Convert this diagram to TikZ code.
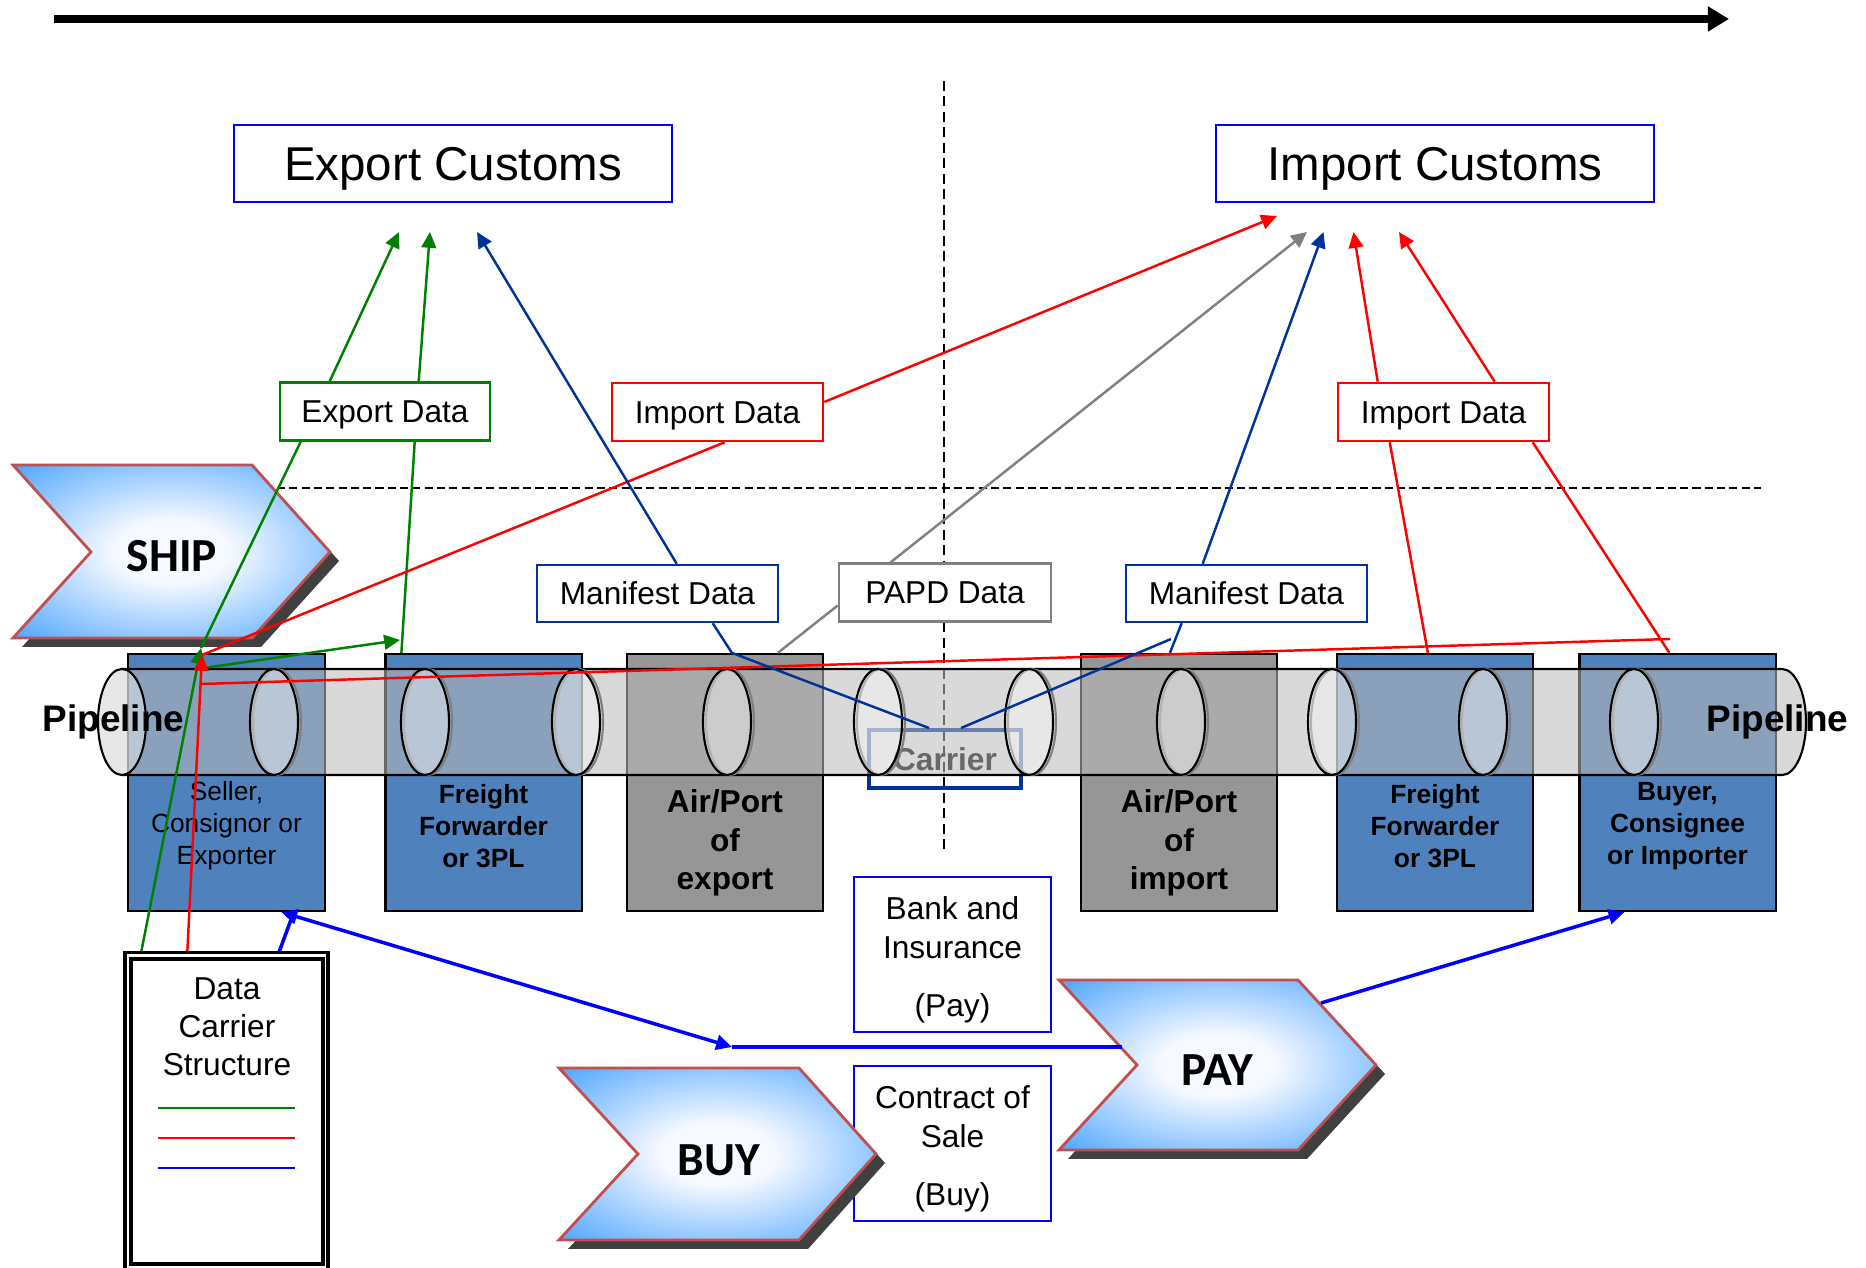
\documentclass[tikz,border=0pt]{standalone}
\usepackage{fontspec}
\setmainfont{Liberation Sans}
\newfontfamily\chevfont{Carlito}
\usetikzlibrary{arrows.meta,calc}
\definecolor{boxblue}{RGB}{79,129,189}
\definecolor{boxgray}{RGB}{150,150,150}
\definecolor{pipecol}{RGB}{187,187,187}
\definecolor{dblue}{RGB}{0,51,153}
\definecolor{lgreen}{RGB}{0,128,0}
\definecolor{lred}{RGB}{255,0,0}
\definecolor{lgray}{RGB}{128,128,128}
\definecolor{pblue}{RGB}{0,0,255}
\definecolor{chevB}{RGB}{74,163,255}
\definecolor{chevW}{RGB}{246,249,255}
\definecolor{chevEdge}{RGB}{192,80,77}
\definecolor{chevShadow}{RGB}{64,64,64}
\pgfdeclareradialshading{chevsh}{\pgfpoint{0bp}{0bp}}{color(0bp)=(chevW); color(9bp)=(chevW); color(36bp)=(chevB); color(50bp)=(chevB)}
\begin{document}
\begin{tikzpicture}[x=0.01cm,y=-0.01cm,
  tip/.style={-{Triangle[length=4.5pt,width=4.2pt]}},
  glink/.style={draw=lgreen,line width=0.7pt},
  rlink/.style={draw=lred,line width=0.7pt},
  dblink/.style={draw=dblue,line width=0.7pt},
  graylink/.style={draw=lgray,line width=0.7pt},
  blink/.style={draw=pblue,line width=1pt},
  custbox/.style={draw=pblue,line width=0.7pt,fill=white,inner sep=0pt,minimum width=4.38cm,minimum height=0.77cm,text height=9.67pt,text depth=0pt,font=\fontsize{13.5}{16}\selectfont},
  databox/.style={fill=white,line width=0.7pt,inner sep=0pt,minimum height=0.58cm,text height=6.45pt,text depth=0pt,font=\fontsize{9}{11}\selectfont},
  unitbox/.style={draw=black,line width=0.6pt,inner sep=0pt,minimum width=1.96cm,minimum height=2.57cm},
  smalltxt/.style={align=center,inner sep=0pt,font=\fontsize{7.5}{9.1}\selectfont},
  smallbold/.style={align=center,inner sep=0pt,font=\bfseries\fontsize{7.5}{9.1}\selectfont},
  aptxt/.style={align=center,inner sep=0pt,font=\bfseries\fontsize{9}{11}\selectfont},
  notebox/.style={draw=pblue,line width=0.7pt,fill=white,inner sep=0pt,minimum width=1.97cm,minimum height=1.55cm},
  notetxt/.style={align=center,inner sep=0pt,font=\fontsize{9}{11.1}\selectfont},
  chevtext/.style={inner sep=0pt,font=\chevfont\bfseries\fontsize{13.5}{16}\selectfont},
  pipetext/.style={inner sep=0pt,font=\bfseries\fontsize{10.5}{12}\selectfont},
  vdash/.style={line width=0.6pt,dash pattern=on 2.8pt off 1.6pt},
  hdash/.style={line width=0.6pt,dash pattern=on 2.3pt off 1.2pt}
]
\useasboundingbox (0,0) rectangle (1866,1268);

% free-end coordinates
\coordinate (tl0) at (54,19);
\coordinate (tl1) at (1729,19);
\coordinate (vd0) at (944,81);
\coordinate (vd1) at (944,851);
\coordinate (hd0) at (277,488);
\coordinate (hd1) at (1761,488);
\coordinate (ecT1) at (399,232);
\coordinate (ecT2) at (430,232);
\coordinate (ecT3) at (477,232);
\coordinate (icT0) at (1277,216);
\coordinate (icT1) at (1307,232);
\coordinate (icT2) at (1323.5,232);
\coordinate (icT3) at (1353.5,232);
\coordinate (icT4) at (1399,232);
\coordinate (gTipS) at (201,648);
\coordinate (rTipS) at (202,655);
\coordinate (gSFF) at (204,668);
\coordinate (gTipFF) at (400,640);
\coordinate (rH0) at (201,684);
\coordinate (rH1) at (1670,639);
\coordinate (mrk) at (1171,639);
\coordinate (bJoin) at (292,917);
\coordinate (bMid) at (732,1047);
\coordinate (payIn) at (1122,1047);
\coordinate (payOut) at (1321,1003);

% time arrow
\draw[line width=2.3pt,-{Triangle[length=6pt,width=6.8pt]}] (tl0) -- (tl1);

% dashed separators
\draw[vdash] (vd0) -- (vd1);
\draw[hdash] (hd0) -- (hd1);

% chevrons
\fill[chevShadow] (22,474) -- (261,474) -- (339,561) -- (261,647) -- (22,647) -- (100,561) -- cycle;
\shadedraw[shading=chevsh,draw=chevEdge,line width=0.8pt] (13,465) -- (252,465) -- (330,552) -- (252,638) -- (13,638) -- (91,552) -- cycle;
\node[chevtext] (ship) at (172,556) {SHIP};

\node[notebox] (contract) at (952.5,1143.5) {};
\node[notetxt] (contractT) at (952.5,1149) {Contract of\\Sale\\[5.4pt](Buy)};
\node[notebox] (bank) at (952.5,954.5) {};
\node[notetxt] (bankT) at (952.5,960) {Bank and\\Insurance\\[5.4pt](Pay)};

\fill[chevShadow] (568,1077) -- (808,1077) -- (885,1163) -- (808,1249) -- (568,1249) -- (647,1163) -- cycle;
\shadedraw[shading=chevsh,draw=chevEdge,line width=0.8pt] (559,1068) -- (799,1068) -- (876,1154) -- (799,1240) -- (559,1240) -- (638,1154) -- cycle;
\node[chevtext] (buy) at (719,1160) {BUY};

\fill[chevShadow] (1068,989) -- (1307,989) -- (1385,1074) -- (1307,1159) -- (1068,1159) -- (1146,1074) -- cycle;
\shadedraw[shading=chevsh,draw=chevEdge,line width=0.8pt] (1059,980) -- (1298,980) -- (1376,1065) -- (1298,1150) -- (1059,1150) -- (1137,1065) -- cycle;
\node[chevtext] (pay) at (1217,1070) {PAY};

% customs and data boxes
\node[custbox] (expC) at (453,163.5) {Export Customs};
\node[custbox] (impC) at (1435,163.5) {Import Customs};
\node[databox,draw=lgreen,minimum width=2.10cm] (expD) at (385,411.5) {Export Data};
\node[databox,draw=lred,minimum width=2.11cm] (impD1) at (717.5,412) {Import Data};
\node[databox,draw=lred,minimum width=2.11cm] (impD2) at (1443.5,412) {Import Data};
\node[databox,draw=dblue,minimum width=2.41cm,minimum height=0.57cm] (manL) at (657.5,593.5) {Manifest Data};
\node[databox,draw=lgray,minimum width=2.12cm] (papd) at (945,592.5) {PAPD Data};
\node[databox,draw=dblue,minimum width=2.41cm,minimum height=0.57cm] (manR) at (1246.5,593.5) {Manifest Data};

% carrier (under the pipeline)
\node[draw=dblue,line width=1.1pt,inner sep=0pt,minimum width=1.52cm,minimum height=0.58cm,text height=6.45pt,text depth=0pt,font=\bfseries\fontsize{9}{11}\selectfont] (carrier) at (945,759) {Carrier};

% party boxes
\node[unitbox,fill=boxblue] (seller) at (226.5,782.5) {};
\node[unitbox,fill=boxblue] (ff1) at (483.5,782.5) {};
\node[unitbox,fill=boxgray] (apE) at (725,782.5) {};
\node[unitbox,fill=boxgray] (apI) at (1179,782.5) {};
\node[unitbox,fill=boxblue] (ff2) at (1435,782.5) {};
\node[unitbox,fill=boxblue] (buyer) at (1677.5,782.5) {};
\node[smalltxt] (sellerT) at (226.5,826) {Seller,\\Consignor or\\Exporter};
\node[smallbold] (ff1T) at (483.5,826) {Freight\\Forwarder\\or 3PL};
\node[aptxt] (apET) at (725,843) {Air/Port\\of\\export};
\node[aptxt] (apIT) at (1179,843) {Air/Port\\of\\import};
\node[smallbold] (ff2T) at (1435,826) {Freight\\Forwarder\\or 3PL};
\node[smallbold] (buyerT) at (1677.5,826) {Buyer,\\Consignee\\or Importer};

% pipeline
\fill[pipecol,fill opacity=0.56] (122,669) -- (1782,669) arc[start angle=90,end angle=-90,x radius=0.24cm,y radius=0.53cm] -- (122,775) arc[start angle=270,end angle=90,x radius=0.24cm,y radius=0.53cm] -- cycle;
\draw[line width=0.6pt] (122,669) -- (1782,669) arc[start angle=90,end angle=-90,x radius=0.24cm,y radius=0.53cm] -- (122,775);
\draw[line width=0.6pt,fill=white,fill opacity=0.4] (122,722) ellipse[x radius=0.24cm,y radius=0.53cm];
\foreach \cx in {274,425,576,727,878,1029,1181,1332,1483,1634}{
  \draw[lgray,line width=0.6pt] (\cx+3,722) ellipse[x radius=0.24cm,y radius=0.53cm];
  \draw[line width=0.6pt,fill=white,fill opacity=0.4] (\cx,722) ellipse[x radius=0.24cm,y radius=0.53cm];
}

% data carrier structure
\node[draw,line width=0.9pt,inner sep=0pt,minimum width=2.03cm,minimum height=3.22cm] (dcs) at (226.5,1114) {};
\draw[line width=0.9pt] (131,959) rectangle (323,1264);
\node[align=center,inner sep=0pt,font=\fontsize{9}{10.8}\selectfont] (dcsT) at (227,1027) {Data\\Carrier\\Structure};
\draw[lgreen,line width=0.7pt] (158,1108) -- (295,1108);
\draw[lred,line width=0.7pt] (158,1138) -- (295,1138);
\draw[pblue,line width=0.7pt] (158,1168) -- (295,1168);

% green connectors
\draw[glink,tip] ($(dcs.north west)+(18,0)$) -- (gTipS);
\draw[glink] (gTipS) -- ($(expD.south west)+(22,0)$);
\draw[glink,tip] ($(expD.north west)+(51,0)$) -- (ecT1);
\draw[glink,tip] (gSFF) -- (gTipFF);
\draw[glink] ($(ff1.north west)+(17,0)$) -- ($(expD.south west)+(136,0)$);
\draw[glink,tip] ($(expD.north west)+(140,0)$) -- (ecT2);

% red connectors
\draw[rlink,tip] ($(dcs.north west)+(64,0)$) -- (rTipS);
\draw[rlink] (rTipS) -- ($(impD1.south west)+(114,0)$);
\draw[rlink,tip] ($(impD1.east)+(0,-10)$) -- (icT0);
\draw[rlink] (rH0) -- (rH1);
\draw[rlink] ($(ff2.north west)+(92,0)$) -- ($(impD2.south west)+(53,0)$);
\draw[rlink,tip] ($(impD2.north west)+(41,0)$) -- (icT3);
\draw[rlink] ($(buyer.north west)+(91,0)$) -- ($(impD2.south west)+(196,0)$);
\draw[rlink,tip] ($(impD2.north west)+(158,0)$) -- (icT4);

% manifest connectors
\draw[dblink,tip] ($(manL.north west)+(141,0)$) -- (ecT3);
\draw[dblink] ($(manL.south west)+(177,0)$) -- ($(apE.north west)+(106,0)$) -- ($(carrier.north)+(-16,0)$);
\draw[dblink,tip] ($(manR.north west)+(78,0)$) -- (icT2);
\draw[dblink] ($(manR.south west)+(57,0)$) -- ($(apI.north west)+(90,0)$);
\draw[dblink] (mrk) -- ($(carrier.north)+(16,0)$);

% PAPD connectors
\draw[graylink,tip] ($(papd.north west)+(53,0)$) -- (icT1);
\draw[graylink] ($(papd.west)+(0,13)$) -- ($(apE.north west)+(152,0)$);

% blue (money / contract) connectors
\draw[blink] ($(dcs.north west)+(156,0)$) -- (bJoin);
\draw[blink,{Triangle[length=4.5pt,width=4.2pt]}-{Triangle[length=4.5pt,width=4.2pt]}] ($(seller.south west)+(154,0)$) -- (bMid);
\draw[blink] (bMid) -- (payIn);
\draw[blink,tip] (payOut) -- ($(buyer.south west)+(46,0)$);

% pipeline labels
\node[pipetext] (pipeL) at (113.5,722) {Pipeline};
\node[pipetext] (pipeR) at (1777.5,722) {Pipeline};
\end{tikzpicture}
\end{document}
